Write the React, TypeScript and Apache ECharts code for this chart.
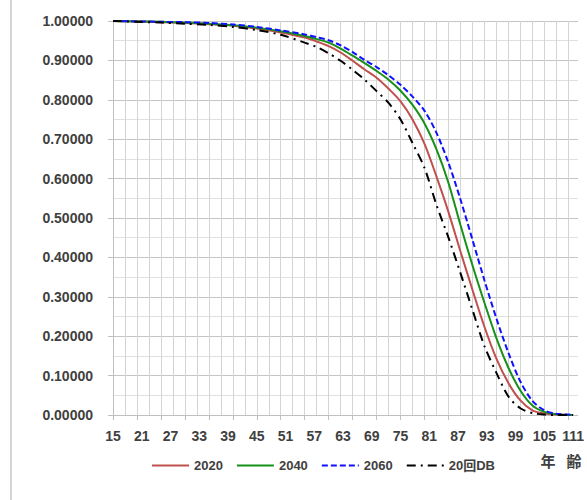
import React, { useEffect, useRef } from 'react';
import * as echarts from 'echarts';

const ages = [15, 20, 25, 30, 35, 40, 45, 50, 55, 57.5, 60, 62.5, 65, 67.5, 70, 72.5, 75, 77.5, 80, 82.5, 85, 87.5, 90, 92.5, 95, 97.5, 100, 102.5, 105, 107.5, 110, 111];

const s2020 = [1.0, 0.999, 0.997, 0.995, 0.992, 0.988, 0.981, 0.971, 0.958, 0.948, 0.936, 0.92, 0.899, 0.877, 0.856, 0.828, 0.796, 0.75, 0.688, 0.605, 0.515, 0.415, 0.318, 0.224, 0.143, 0.081, 0.037, 0.012, 0.004, 0.001, 0.0, 0.0];
const s2040 = [1.0, 0.999, 0.998, 0.996, 0.993, 0.989, 0.983, 0.974, 0.962, 0.954, 0.945, 0.93, 0.912, 0.893, 0.873, 0.851, 0.823, 0.787, 0.74, 0.674, 0.589, 0.482, 0.38, 0.285, 0.195, 0.12, 0.062, 0.024, 0.008, 0.002, 0.0, 0.0];
const s2060 = [1.0, 0.999, 0.998, 0.997, 0.995, 0.991, 0.985, 0.976, 0.966, 0.959, 0.951, 0.938, 0.921, 0.901, 0.883, 0.862, 0.838, 0.808, 0.772, 0.716, 0.64, 0.547, 0.445, 0.342, 0.245, 0.158, 0.085, 0.036, 0.012, 0.003, 0.001, 0.0];
const sDB = [1.0, 0.998, 0.996, 0.993, 0.99, 0.985, 0.977, 0.965, 0.945, 0.934, 0.918, 0.899, 0.876, 0.851, 0.822, 0.792, 0.75, 0.69, 0.627, 0.533, 0.45, 0.36, 0.267, 0.175, 0.107, 0.047, 0.017, 0.005, 0.001, 0.0, 0.0, 0.0];

const seriesNames = ['2020', '2040', '2060', '20回DB'];
const labelAges = [15, 21, 27, 33, 39, 45, 51, 57, 63, 69, 75, 81, 87, 93, 99, 105, 111];
const tickAges = [15, 20, 25, 30, 35, 40, 45, 50, 55, 60, 65, 70, 75, 80, 85, 90, 95, 100, 105, 110];
const gridAges = Array.from({ length: 39 }, (_, i) => 15 + i * 2.5);

const FONT = '"Liberation Sans", Arial, "Noto Sans CJK JP", sans-serif';
const TXT = '#404040';

export default function App() {
  const ref = useRef<HTMLDivElement>(null);
  useEffect(() => {
    document.body.style.margin = '0';
    const chart = echarts.init(ref.current!, null, { renderer: 'svg' });
    const mk = (vals: number[]) => ages.map((a, i) => [a, vals[i]]);
    const styles = [
      { color: '#c0504d', type: 'solid' as any },
      { color: '#17901a', type: 'solid' as any },
      { color: '#1010ff', type: [6, 3] as any },
      { color: '#000000', type: [9, 5, 2, 5] as any },
    ];
    const datas = [s2020, s2040, s2060, sDB];
    chart.setOption({
      animation: false,
      textStyle: { fontFamily: FONT },
      grid: { left: 113, top: 21, right: 4, bottom: 85 },
      legend: {
        data: seriesNames,
        left: 151,
        top: 459,
        padding: 0,
        itemWidth: 37,
        itemHeight: 14,
        itemGap: 13,
        itemStyle: { opacity: 0 },
        textStyle: { fontSize: 13, fontWeight: 'bold', color: TXT, fontFamily: FONT },
      },
      xAxis: [
        {
          type: 'value',
          min: 15,
          max: 112,
          position: 'bottom',
          axisLine: { show: true, lineStyle: { color: '#bfbfbf', width: 1 } },
          axisTick: { show: false, customValues: gridAges },
          axisLabel: { show: false },
          splitLine: { show: true, lineStyle: { color: '#d4d4d4', width: 1 } },
        },
        {
          type: 'value',
          min: 15,
          max: 112,
          position: 'bottom',
          axisLine: { show: false },
          axisTick: { show: true, customValues: tickAges, length: 5, lineStyle: { color: '#bfbfbf' } },
          axisLabel: {
            customValues: labelAges,
            margin: 14,
            fontSize: 14,
            fontWeight: 'bold',
            color: TXT,
            fontFamily: FONT,
          },
          splitLine: { show: false },
        },
      ],
      yAxis: {
        type: 'value',
        min: 0,
        max: 1,
        interval: 0.1,
        axisLine: { show: true, lineStyle: { color: '#bfbfbf' } },
        axisTick: { show: true, length: 5, lineStyle: { color: '#bfbfbf' } },
        axisLabel: {
          formatter: (v: number) => v.toFixed(5),
          margin: 20,
          fontSize: 14,
          fontWeight: 'bold',
          color: TXT,
          fontFamily: FONT,
        },
        splitLine: { show: true, lineStyle: { color: '#c4c4c4' } },
        minorTick: { show: false, splitNumber: 2 },
        minorSplitLine: { show: true, lineStyle: { color: '#e0e0e0' } },
      },
      graphic: [
        { type: 'rect', left: 10, top: 0, shape: { width: 2, height: 500 }, style: { fill: '#d4d4d4' }, silent: true },
        { type: 'text', x: 548, y: 460, style: { text: '年', fontSize: 15, fontWeight: 'bold', fill: TXT, align: 'center', verticalAlign: 'middle', fontFamily: '"Noto Sans CJK JP", sans-serif' } },
        { type: 'text', x: 574, y: 460, style: { text: '齢', fontSize: 15, fontWeight: 'bold', fill: TXT, align: 'center', verticalAlign: 'middle', fontFamily: '"Noto Sans CJK JP", sans-serif' } },
      ],
      series: seriesNames.map((name, i) => ({
        name,
        type: 'line',
        xAxisIndex: 0,
        data: mk(datas[i]),
        showSymbol: false,
        symbol: 'none',
        smooth: 0.3,
        color: styles[i].color,
        lineStyle: { color: styles[i].color, width: 2, type: styles[i].type },
      })),
    });
    return () => chart.dispose();
  }, []);
  return <div ref={ref} style={{ width: 587, height: 500 }} />;
}
